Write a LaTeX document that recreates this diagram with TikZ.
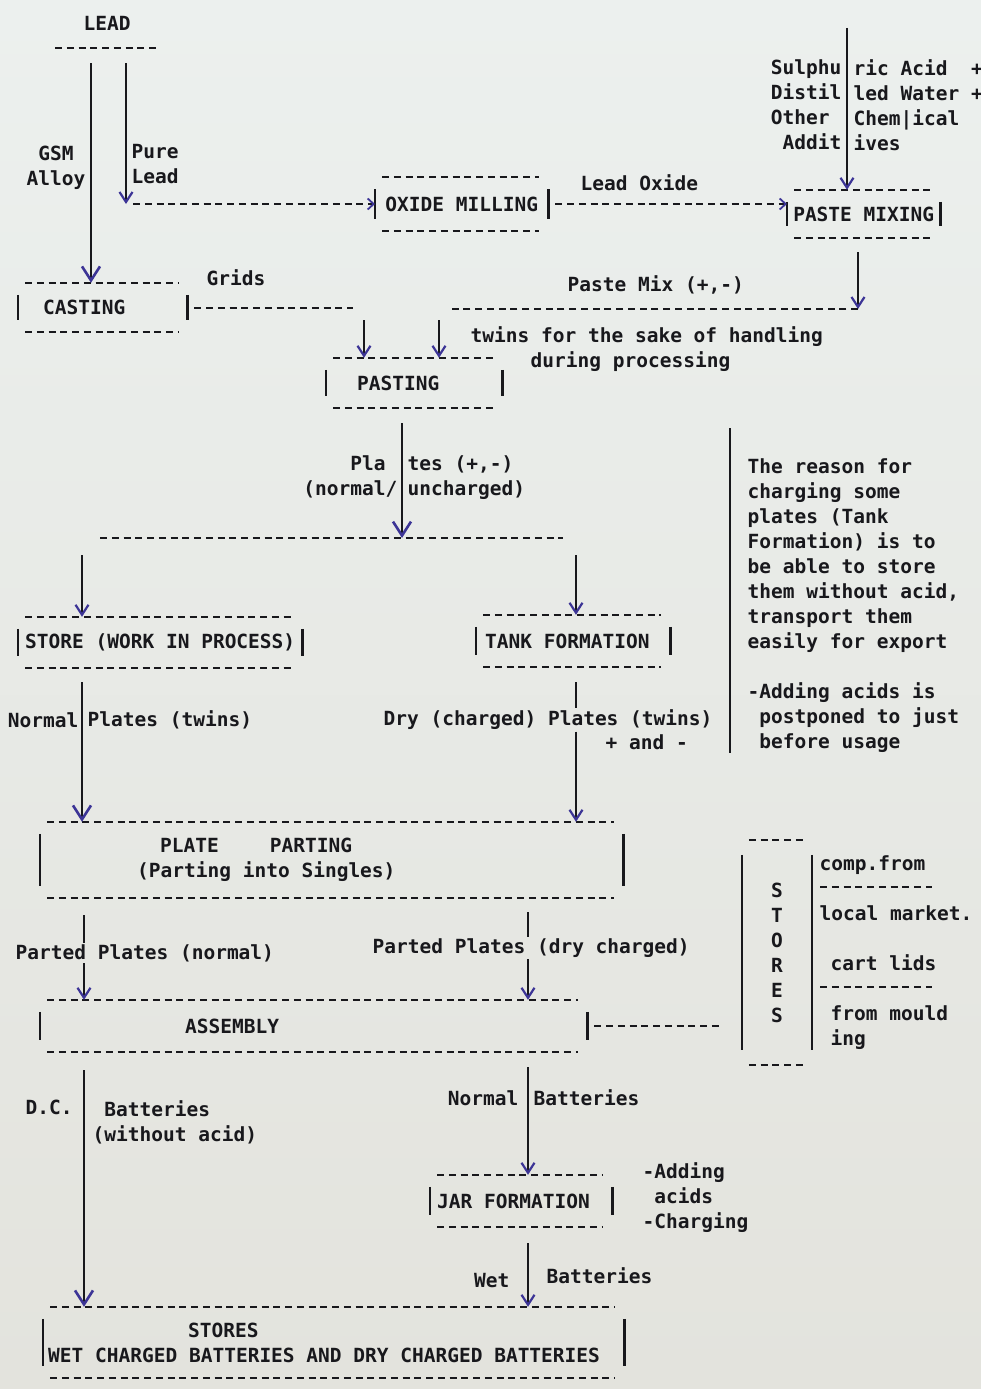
\documentclass[tikz,border=0pt]{standalone}
\usepackage{fontspec}
\setmonofont{DejaVu Sans Mono}
\usetikzlibrary{arrows.meta, positioning}
\setlength{\parindent}{0pt}
\definecolor{paperTop}{RGB}{236,240,238}
\definecolor{paperBot}{RGB}{227,227,221}
\definecolor{typeink}{RGB}{24,24,28}
\definecolor{penblue}{RGB}{60,52,150}
\tikzset{
  typedash/.style={color=typeink, line width=2pt, dash pattern=on 7pt off 4.75pt},
  stagebar/.style={color=typeink, line width=2.4pt},
  plain/.style={color=typeink, line width=1.5pt},
  txt/.style={inner sep=1.5pt},
  stage/.style={inner sep=0pt, align=center, append after command={
      ([xshift=7pt]\tikzlastnode.north west) edge[typedash] ([xshift=-9pt]\tikzlastnode.north east)
      ([xshift=7pt]\tikzlastnode.south west) edge[typedash] ([xshift=-9pt]\tikzlastnode.south east)
      ([yshift=-#1]\tikzlastnode.north west) edge[stagebar] ([yshift=#1]\tikzlastnode.south west)
      ([yshift=-#1]\tikzlastnode.north east) edge[stagebar] ([yshift=#1]\tikzlastnode.south east)}},
  stage/.default=12pt,
  flow/.style={plain, -{Straight Barb[length=10pt,width=13pt,line width=2.2pt,color=penblue]}},
  bigflow/.style={plain, line width=1.7pt, -{Straight Barb[length=14pt,width=18pt,line width=2.6pt,color=penblue]}},
  feed/.style={typedash, shorten <=7pt},
  dashflow/.style={feed, -{Straight Barb[length=6pt,width=11pt,line width=1.8pt,color=penblue]}},
}
\begin{document}
\begin{tikzpicture}[x=1pt, y=-1pt,
    every node/.style={font=\ttfamily\bfseries\fontsize{19.5pt}{25pt}\selectfont, text=typeink}]
  \shade[top color=paperTop, bottom color=paperBot] (0,0) rectangle (981,1389);
  \useasboundingbox (0,0) rectangle (981,1389);
  % Columns of the arrows
  \coordinate (gsm) at (91,0);
  \coordinate (pure) at (126,0);
  \coordinate (g1) at (364,0);
  \coordinate (g2) at (439,0);
  \coordinate (gridend) at (353,0);
  \coordinate (leftcol) at (82,0);
  \coordinate (tankcol) at (576,0);
  \coordinate (leftcol2) at (84,0);
  \coordinate (rightcol) at (528,0);
  \coordinate (asmend) at (720,0);
  \coordinate (acidtop) at (847,28);
  \coordinate (pmjoin) at (858,309);
  \coordinate (pmend) at (447,309);
  \coordinate (split) at (402,538);
  \coordinate (splitl) at (100,538);
  \coordinate (splitr) at (563,538);
  \coordinate (notetop) at (730,428);
  \coordinate (notebot) at (730,753);
  % Stages
  \node[txt, inner sep=0pt, minimum width=118pt, minimum height=50pt, anchor=west] (lead) at (48,23) {LEAD};
  \draw[typedash] ([xshift=7pt]lead.south west) -- ([xshift=-9pt]lead.south east);
  \node[stage, minimum width=169pt, minimum height=49pt, anchor=west] (casting) at (18,307.5)
    {\makebox[169pt][l]{\hspace*{25pt}CASTING}};
  \node[stage, minimum width=173pt, minimum height=53pt, anchor=west] (oxide) at (375,204) {OXIDE MILLING};
  \node[stage, minimum width=153pt, minimum height=48pt, anchor=west] (pastemix) at (787,214) {PASTE MIXING};
  \node[stage, minimum width=176pt, minimum height=50pt, anchor=west] (pasting) at (326,383)
    {\makebox[176pt][l]{\hspace*{31pt}PASTING}};
  \node[stage, minimum width=284pt, minimum height=51pt, anchor=west] (wip) at (18,642.5) {STORE (WORK IN PROCESS)};
  \node[stage, minimum width=194pt, minimum height=52pt, anchor=west] (tank) at (476,641)
    {\makebox[194pt][l]{\hspace*{9pt}TANK FORMATION}};
  \node[stage, minimum width=583pt, minimum height=76pt, anchor=west, align=left] (parting) at (40,860)
    {\makebox[583pt][l]{\hspace*{120pt}PLATE\hspace{51pt}PARTING}\\\makebox[583pt][l]{\hspace*{97pt}(Parting into Singles)}};
  \node[stage, minimum width=547pt, minimum height=52pt, anchor=west] (assembly) at (40,1026)
    {\makebox[547pt][l]{\hspace*{145pt}ASSEMBLY}};
  \node[stage, minimum width=182pt, minimum height=52pt, anchor=west] (jar) at (430,1201)
    {\makebox[182pt][l]{\hspace*{7pt}JAR FORMATION}};
  \node[stage, minimum width=581pt, minimum height=71pt, anchor=west, align=left] (stores) at (43,1342.5)
    {\makebox[581pt][l]{\hspace*{145pt}STORES}\\\makebox[581pt][l]{\hspace*{5pt}WET CHARGED BATTERIES AND DRY CHARGED BATTERIES}};
  \node[stage=15pt, minimum width=70pt, minimum height=225pt] (sidestore) at (777,952.5) {S\\T\\O\\R\\E\\S};
  % Labels
  \node[txt, anchor=east, align=center] (gsmlbl) at (87,168) {GSM\\Alloy};
  \node[txt, anchor=west, align=left] (purelbl) at (130,164) {Pure\\Lead};
  \node[txt, anchor=north east, align=right] (acidl) at (843,57.5) {Sulphu\\Distil\\Other\hphantom{x}\\Addit};
  \node[txt, anchor=north west, align=left] (acidr) at (852,57.5) {ric Acid\ \ +\\led Water +\\Chem|ical\\ives};
  \node[txt, anchor=west] (oxidelbl) at (579,183) {Lead Oxide};
  \node[txt, anchor=west] (gridslbl) at (205,278) {Grids};
  \node[txt, anchor=west] (pmixlbl) at (566,285) {Paste Mix (+,-)};
  \node[txt, anchor=west] (twins) at (469,337) {twins for the sake of handling};
  \node[txt, anchor=west] (during) at (529,362) {during processing};
  \node[txt, anchor=north east, align=right] (platesl) at (399,453.5) {Pla\hphantom{x}\\(normal/};
  \node[txt, anchor=north west, align=left] (platesr) at (406,453.5) {tes (+,-)\\uncharged)};
  \node[txt, anchor=east] (normlbl) at (80,720) {Normal};
  \node[txt, anchor=west] (twinslbl) at (86,720) {Plates (twins)};
  \node[txt, anchor=west] (drylbl) at (382,720) {Dry (charged) Plates (twins)};
  \node[txt, anchor=west] (pmlbl) at (604,742) {+ and -};
  \node[txt, anchor=north west, align=left] (reason) at (746,457)
    {The reason for\\charging some\\plates (Tank\\Formation) is to\\be able to store\\them without acid,\\transport them\\easily for export\\[25pt]-Adding acids is\\\hphantom{x}postponed to just\\\hphantom{x}before usage};
  \node[txt, anchor=west] (partedn) at (14,953) {Parted Plates (normal)};
  \node[txt, anchor=west] (partedd) at (371,948) {Parted Plates (dry charged)};
  \node[txt, anchor=west] (compfrom) at (818,865) {comp.from};
  \node[txt, anchor=west] (localmkt) at (818,913) {local market.};
  \node[txt, anchor=west] (cartlids) at (829,963) {cart lids};
  \node[txt, anchor=north west, align=left] (mould) at (829,1003.5) {from mould\\ing};
  \node[txt, anchor=west] (dclbl) at (24,1107) {D.C.};
  \node[txt, anchor=north west, align=left] (batlbl) at (91,1098.5) {\hphantom{(}Batteries\\(without acid)};
  \node[txt, anchor=east] (normbat) at (520,1098) {Normal};
  \node[txt, anchor=west] (normbat2) at (532,1098) {Batteries};
  \node[txt, anchor=north west, align=left] (jarnote) at (641,1160.5) {-Adding\\\hphantom{-}acids\\-Charging};
  \node[txt, anchor=east] (wetlbl) at (511,1281) {Wet};
  \node[txt, anchor=west] (wetbat) at (545,1276) {Batteries};
  % Lead to casting and oxide milling
  \draw[bigflow, shorten <=15pt] (lead.south -| gsm) -- (casting.north -| gsm);
  \draw[flow, shorten <=15pt] (lead.south -| pure) -- (oxide.west -| pure);
  \draw[dashflow] (oxide.west -| pure) -- (oxide.west);
  \draw[dashflow] (oxide.east) -- (oxide.east -| pastemix.west);
  \draw[flow] (acidtop) -- (pastemix.north -| acidtop);
  % Grids and paste mix into pasting
  \draw[feed] (casting.east) -- (casting.east -| gridend);
  \draw[flow, shorten <=14pt] (pastemix.south -| pmjoin) -- (pmjoin);
  \draw[typedash] (pmjoin) -- (pmend);
  \draw[flow, shorten <=11pt] (pmend -| g1) -- (pasting.north -| g1);
  \draw[flow, shorten <=11pt] (pmend -| g2) -- (pasting.north -| g2);
  % Plates
  \draw[bigflow, shorten <=15pt] (pasting.south -| split) -- (split);
  \draw[typedash] (splitl) -- (splitr);
  \draw[flow, shorten <=17pt] (split -| leftcol) -- (wip.north -| leftcol);
  \draw[flow, shorten <=17pt] (split -| tankcol) -- (tank.north -| tankcol);
  \draw[bigflow, shorten <=14pt] (wip.south -| leftcol) -- (parting.north -| leftcol);
  \draw[plain, shorten <=15pt] (tank.south -| tankcol) -- (drylbl.north -| tankcol);
  \draw[flow] (drylbl.south -| tankcol) -- (parting.north -| tankcol);
  \draw[plain] (notetop) -- (notebot);
  % Parted plates into assembly
  \draw[plain, shorten <=17pt] (parting.south -| leftcol2) -- (partedn.north -| leftcol2);
  \draw[flow] (partedn.south -| leftcol2) -- (assembly.north -| leftcol2);
  \draw[plain, shorten <=14pt] (parting.south -| rightcol) -- (partedd.north -| rightcol);
  \draw[flow] (partedd.south -| rightcol) -- (assembly.north -| rightcol);
  \draw[feed] (assembly.east) -- (assembly.east -| asmend);
  \draw[typedash] (820,887) -- (932,887);
  \draw[typedash] (820,987) -- (932,987);
  % Batteries
  \draw[bigflow, shorten <=18pt] (assembly.south -| leftcol2) -- (stores.north -| leftcol2);
  \draw[flow, shorten <=15pt] (assembly.south -| rightcol) -- (jar.north -| rightcol);
  \draw[flow, shorten <=16pt] (jar.south -| rightcol) -- (stores.north -| rightcol);
\end{tikzpicture}
\end{document}
